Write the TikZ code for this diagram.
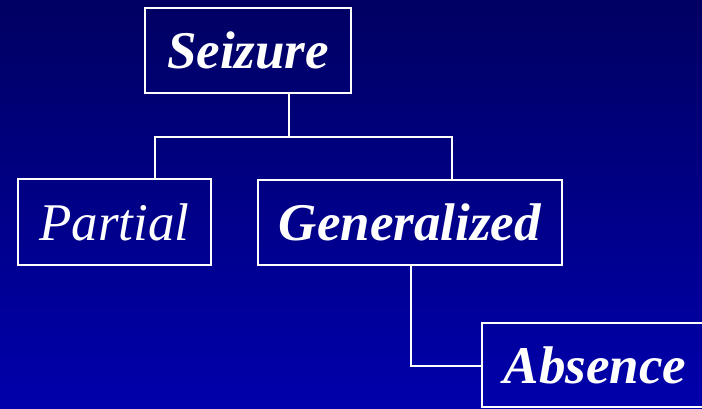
\documentclass[tikz,border=0pt]{standalone}
\usepackage{fontspec}
\setmainfont{Liberation Serif}
\begin{document}
\begin{tikzpicture}[x=1pt,y=-1pt,
  box/.style={draw=white, line width=2.6pt, rectangle, inner sep=0pt,
    text=white, font=\fontsize{53}{60}\selectfont\bfseries\itshape},
  link/.style={draw=white, line width=2.6pt}]
  \definecolor{navytop}{RGB}{0,0,98}
  \definecolor{navybottom}{RGB}{0,0,172}
  % background
  \useasboundingbox (0,0) rectangle (702,409);
  \shade[top color=navytop, bottom color=navybottom] (0,0) rectangle (702,409);
  \clip (0,0) rectangle (702,409);
  % boxes
  \node[box, minimum width=206pt, minimum height=85pt] (seizure) at (248,50.5) {Seizure};
  \node[box, minimum width=193pt, minimum height=86pt,
        font=\fontsize{53}{60}\selectfont\itshape] (partial) at (114.5,222) {Partial};
  \node[box, minimum width=304pt, minimum height=85pt] (generalized) at (410,222.5) {Generalized};
  \node[box, minimum width=226pt, minimum height=84pt] (absence) at (595,365) {Absence};
  % junction points
  \coordinate (sj) at (289,137);
  \coordinate (pj) at (155,137);
  \coordinate (gj) at (452,137);
  \coordinate (aj) at (411,366);
  % connectors
  \draw[link] (sj |- seizure.south) -- (sj);
  \draw[link] (pj |- partial.north) -- (pj) -- (gj) -- (gj |- generalized.north);
  \draw[link] (aj |- generalized.south) -- (aj) -- (aj -| absence.west);
\end{tikzpicture}
\end{document}
